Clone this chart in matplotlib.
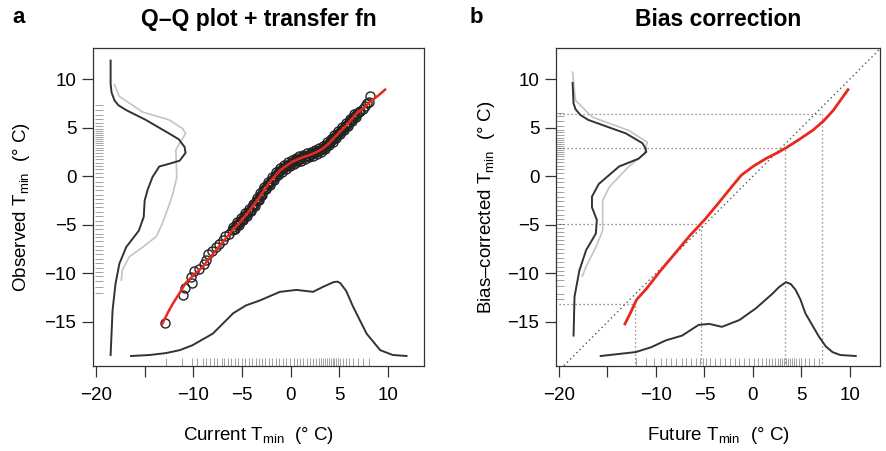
import matplotlib
matplotlib.use("Agg")
import matplotlib.pyplot as plt

plt.rcParams['font.family'] = ['Liberation Sans', 'DejaVu Sans']
plt.rcParams['mathtext.fontset'] = 'custom'
plt.rcParams['mathtext.rm'] = 'Liberation Sans'
plt.rcParams['axes.unicode_minus'] = True

# ---------------- panel a: Q-Q plot + transfer function ----------------
qq_cur = [-12.9, -11.1, -10.9, -10.2, -10.1, -9.9, -9.4, -8.9, -8.7, -8.5, -8.1, -7.7, -7.4, -7.0, -6.7, -6.3,
          -6.0, -5.8, -5.6, -5.4, -5.2, -5.0, -4.8, -4.6, -4.4, -4.2,
          -4.0, -3.8, -3.6, -3.4, -3.2, -3.0, -2.8, -2.6, -2.4, -2.2,
          -2.0, -1.8, -1.6, -1.4, -1.2, -1.0, -0.8, -0.6, -0.4, -0.2,
          0.0, 0.2, 0.4, 0.6, 0.8, 1.0, 1.2, 1.4, 1.6, 1.8,
          2.0, 2.2, 2.4, 2.6, 2.8, 3.0, 3.2, 3.4, 3.6, 3.8,
          4.0, 4.2, 4.4, 4.6, 4.8, 5.0, 5.2, 5.4, 5.6, 5.8,
          6.0, 6.2, 6.4, 6.6, 6.8,
          7.0, 7.1, 7.4, 7.6, 7.8, 8.0, 8.2,
          -5.9, -5.7, -5.5, -5.3, -5.1, -4.9, -4.7, -4.5, -4.3, -4.1,
          -3.9, -3.7, -3.5, -3.3, -3.1, -2.9, -2.7, -2.5, -2.3, -2.1,
          -1.9, -1.7, -1.5, -1.3, -1.1, -0.9, -0.7, -0.5, -0.3, -0.1,
          0.1, 0.3, 0.5, 0.7, 0.9, 1.1, 1.3, 1.5, 1.7, 1.9,
          2.1, 2.3, 2.5, 2.7, 2.9, 3.1, 3.3, 3.5, 3.7, 3.9,
          4.1, 4.3, 4.5, 4.7, 4.9, 5.1, 5.3, 5.5, 5.7, 5.9,
          6.1, 6.3, 6.5, 6.7]
qq_obs = [-15.1, -12.2, -11.5, -10.4, -11.0, -9.8, -9.5, -9.0, -8.6, -8.0, -7.7, -7.3, -7.0, -6.6, -6.2, -5.9,
          -5.5, -5.4, -5.05, -4.95, -4.6, -4.5, -4.1, -4.0, -3.65, -3.55,
          -3.15, -3.0, -2.6, -2.45, -2.0, -1.9, -1.45, -1.3, -0.9, -0.8,
          -0.45, -0.3, 0.05, 0.2, 0.55, 0.6, 0.85, 0.9, 1.15, 1.2,
          1.4, 1.45, 1.62, 1.63, 1.78, 1.78, 1.93, 1.95, 2.08, 2.1,
          2.25, 2.27, 2.44, 2.47, 2.64, 2.66, 2.84, 2.92, 3.18, 3.3,
          3.56, 3.68, 3.94, 4.06, 4.34, 4.46, 4.74, 4.86, 5.14, 5.28,
          5.6, 5.74, 6.07, 6.22, 6.55,
          6.6, 6.7, 6.9, 7.2, 7.5, 7.6, 8.3,
          -5.2, -5.48, -4.75, -5.03, -4.3, -4.55, -3.8, -4.08, -3.35, -3.6,
          -2.83, -3.05, -2.28, -2.48, -1.7, -1.93, -1.13, -1.35, -0.6, -0.88,
          -0.13, -0.38, 0.38, 0.13, 0.83, 0.48, 1.13, 0.78, 1.43, 1.05,
          1.68, 1.29, 1.88, 1.46, 2.03, 1.61, 2.19, 1.77, 2.34, 1.93,
          2.51, 2.11, 2.71, 2.31, 2.9, 2.5, 3.13, 2.8, 3.49, 3.18,
          3.87, 3.56, 4.25, 3.95, 4.65, 4.35, 5.05, 4.75, 5.46, 5.19,
          5.92, 5.66, 6.4, 6.14]

tf_x = [-13.2, -12.6, -12.1, -11.4, -10.8, -9.9, -9.0, -7.5, -6.0, -5.0, -4.2, -3.3, -2.5, -1.8, -1.1, -0.4,
        0.2, 1.0, 2.0, 2.7, 3.3, 3.9, 4.4, 5.0, 5.7, 6.3, 6.8, 7.5, 8.1, 9.0, 9.7]
tf_y = [-15.2, -14.0, -13.1, -12.0, -11.0, -10.1, -9.3, -7.4, -5.6, -4.5, -3.5, -2.3, -1.1, -0.2, 0.6, 1.1,
        1.5, 1.85, 2.2, 2.5, 2.85, 3.35, 3.9, 4.5, 5.2, 5.9, 6.5, 7.0, 7.6, 8.3, 8.9]

# observed density (black) and current density (grey), drawn sideways on the left
obs_dens_x = [-18.5, -18.5, -18.4, -18.1, -17.7, -16.9, -14.9, -12.5, -11.5, -10.9, -10.8, -11.4, -12.4, -13.5,
              -14.2, -14.7, -15.0, -15.1, -15.6, -16.9, -17.6, -18.0, -18.3, -18.5]
obs_dens_y = [11.9, 9.5, 8.6, 7.8, 7.3, 6.8, 5.8, 4.4, 3.8, 3.0, 2.4, 1.6, 1.3, 1.0,
              -0.1, -1.4, -2.5, -4.2, -5.6, -7.3, -9.0, -11.1, -13.8, -18.4]
cur_dens_x = [-18.1, -17.6, -15.2, -12.5, -11.1, -10.8, -11.4, -11.8, -11.7, -12.1, -12.5, -13.2, -13.8,
              -15.2, -16.6, -17.3, -17.4]
cur_dens_y = [9.4, 8.2, 6.6, 5.8, 4.9, 4.4, 3.4, 2.7, -0.1, -1.8, -3.0, -4.9, -6.2,
              -7.3, -8.3, -9.7, -10.7]
# current density along the bottom
cur_bot_x = [-16.4, -14.5, -12.8, -11.4, -10.1, -8.0, -5.9, -4.6, -3.2, -1.1, 0.6, 2.3, 3.3, 4.4, 4.8, 5.1,
             5.7, 6.4, 7.8, 9.2, 10.5, 11.9]
cur_bot_y = [-18.5, -18.4, -18.2, -17.9, -17.4, -16.2, -14.1, -13.3, -12.8, -11.9, -11.7, -11.9, -11.4, -10.9,
             -10.85, -11.0, -11.8, -13.4, -16.2, -17.9, -18.4, -18.5]

rug_cur = [-12.8, -11.2, -10.1, -9.6, -9.0, -8.7, -8.3, -7.9, -7.6, -7.1, -6.8, -6.4, -6.1, -5.7, -5.4, -5.0,
           -4.7, -4.3, -4.0, -3.6, -3.3, -2.9, -2.6, -2.2, -1.9, -1.5, -1.2, -0.8, -0.5, -0.1, 0.3, 0.6,
           1.0, 1.3, 1.7, 2.0, 2.3, 2.6, 2.9, 3.1, 3.3, 3.5, 3.7, 3.9, 4.1, 4.3, 4.5, 4.7, 4.9, 5.1,
           5.4, 5.7, 6.0, 6.4, 6.9, 7.4, 8.1]
rug_obs = [-12.0, -11.4, -10.8, -10.3, -9.9, -9.4, -8.9, -8.5, -8.0, -7.6, -7.2, -6.7, -6.3, -5.9, -5.4, -5.0,
           -4.6, -4.1, -3.7, -3.2, -2.8, -2.3, -1.9, -1.4, -1.0, -0.6, -0.1, 0.3, 0.7, 1.1, 1.4, 1.8,
           2.1, 2.4, 2.7, 2.9, 3.2, 3.4, 3.6, 3.8, 4.0, 4.2, 4.4, 4.6, 4.9, 5.2, 5.5, 5.9, 6.3, 6.8, 7.3]

# ---------------- panel b: bias correction ----------------
bc_x = [-13.2, -12.6, -12.0, -11.0, -9.6, -8.0, -6.5, -5.0, -3.5, -2.2, -1.2, 0.0, 1.4, 2.5, 3.5, 4.8,
        6.2, 7.3, 8.3, 9.8]
bc_y = [-15.2, -14.0, -12.7, -11.6, -9.8, -7.9, -6.1, -4.5, -2.7, -1.1, 0.1, 1.0, 1.85, 2.4, 2.97, 3.8,
        4.75, 5.7, 6.8, 8.9]

guide_x = [-12.2, -5.4, 3.3, 7.1]
guide_y = [-13.1, -4.95, 2.95, 6.4]

corr_dens_x = [-18.6, -18.5, -18.3, -17.8, -17.0, -15.9, -13.1, -11.4, -11.1, -11.0, -11.8, -13.8, -15.9,
               -16.6, -16.6, -16.1, -16.2, -17.2, -17.9, -18.4, -18.5]
corr_dens_y = [9.6, 7.5, 6.9, 6.3, 5.8, 5.4, 4.4, 3.4, 2.9, 2.5, 1.8, 1.0, -0.8,
               -2.1, -3.2, -4.5, -5.9, -7.6, -9.7, -12.4, -16.4]
obs2_dens_x = [-18.6, -18.3, -16.6, -12.8, -10.9, -11.2, -12.8, -14.8, -15.5, -15.5, -15.5, -16.2, -17.2, -17.6]
obs2_dens_y = [10.7, 7.8, 6.1, 4.7, 3.5, 2.3, 1.0, -1.1, -2.5, -4.2, -5.6, -7.3, -9.3, -10.3]
fut_bot_x = [-15.7, -12.1, -10.5, -9.0, -7.3, -5.6, -4.5, -3.2, -1.4, 0.3, 2.0, 2.7, 3.4, 3.9, 4.4, 4.9,
             5.4, 6.8, 7.5, 8.2, 9.0, 10.6]
fut_bot_y = [-18.5, -18.1, -17.6, -16.9, -16.4, -15.3, -15.2, -15.5, -14.8, -13.6, -12.1, -11.4, -10.9,
             -11.1, -11.7, -12.7, -14.1, -16.5, -17.5, -18.1, -18.4, -18.5]

rug_fut = [-12.1, -11.0, -10.2, -9.5, -9.0, -8.4, -7.9, -7.3, -6.9, -6.4, -5.9, -5.5, -5.2, -4.8, -4.4, -3.9,
           -3.4, -2.9, -2.4, -1.9, -1.4, -0.9, -0.4, 0.1, 0.5, 0.9, 1.3, 1.7, 2.0, 2.3, 2.6, 2.8,
           3.0, 3.2, 3.4, 3.6, 3.8, 4.0, 4.2, 4.4, 4.7, 5.0, 5.4, 5.8, 6.3, 6.8]
rug_corr = [-12.6, -12.1, -11.3, -10.7, -10.2, -9.8, -9.3, -8.8, -8.4, -7.9, -7.5, -7.0, -6.6, -6.2, -5.7, -5.3,
            -4.9, -4.4, -4.0, -3.5, -3.1, -2.6, -2.1, -1.6, -1.1, -0.6, -0.2, 0.3, 0.7, 1.1, 1.5, 1.8,
            2.1, 2.3, 2.5, 2.7, 2.9, 3.1, 3.3, 3.5, 3.7, 3.9, 4.2, 4.5, 4.8, 5.2, 5.7, 6.2, 6.5]

xticks = [-20, -15, -10, -5, 0, 5, 10]
xtick_labels = ['\u221220', '', '\u221210', '\u22125', '0', '5', '10']
yticks = [-15, -10, -5, 0, 5, 10]

dark = '#333333'
red = '#e8291c'

fig = plt.figure(figsize=(8.86, 4.51), dpi=100)
ax1 = fig.add_axes([93 / 886, 85 / 451, 331 / 886, 318 / 451])
ax2 = fig.add_axes([556 / 886, 85 / 451, 324 / 886, 318 / 451])


def style(ax):
    for s in ax.spines.values():
        s.set_color(dark)
        s.set_linewidth(0.9)
    ax.set_xticks(xticks)
    ax.set_xticklabels(xtick_labels)
    ax.set_yticks(yticks)
    ax.tick_params(direction='out', length=8, width=0.9, color=dark, labelsize=13.5, pad=7)
    ax.tick_params(axis='y', pad=4)
    ax.set_ylim(-19.53, 13.19)


def rugs(ax, xs, ys, x0):
    ax.vlines(xs, 0, 0.025, transform=ax.get_xaxis_transform(), color='black', alpha=0.42, lw=0.6)
    ax.hlines(ys, x0, x0 + 0.025, transform=ax.get_yaxis_transform(), color='black', alpha=0.42, lw=0.6)


# panel a
ax1.plot(cur_dens_x, cur_dens_y, color='#c4c4c4', lw=1.2)
ax1.plot(obs_dens_x, obs_dens_y, color=dark, lw=1.4)
ax1.plot(cur_bot_x, cur_bot_y, color=dark, lw=1.4)
rugs(ax1, rug_cur, rug_obs, 0.006)
ax1.plot(qq_cur, qq_obs, 'o', mfc='none', mec='#222222', ms=6.5, mew=1.0)
ax1.plot(tf_x, tf_y, color=red, lw=1.8)
style(ax1)
ax1.set_xlim(-20.31, 13.7)

# panel b
ax2.plot([-25, 20], [-25, 20], color='#555555', lw=1.0, ls=(0, (1, 2.2)))
for gx, gy in zip(guide_x, guide_y):
    ax2.plot([-25, gx], [gy, gy], color='#777777', lw=0.9, ls=(0, (1, 2.2)))
    ax2.plot([gx, gx], [-25, gy], color='#777777', lw=0.9, ls=(0, (1, 2.2)))
ax2.plot(obs2_dens_x, obs2_dens_y, color='#c4c4c4', lw=1.2)
ax2.plot(corr_dens_x, corr_dens_y, color=dark, lw=1.4)
ax2.plot(fut_bot_x, fut_bot_y, color=dark, lw=1.4)
rugs(ax2, rug_fut, rug_corr, 0.0)
ax2.plot(bc_x, bc_y, color=red, lw=2.0)
style(ax2)
ax2.set_xlim(-20.31, 13.1)

# labels
ax1.set_xlabel('Current T$_{\\mathrm{min}}$  (° C)', fontsize=13.5)
ax1.set_ylabel('Observed T$_{\\mathrm{min}}$  (° C)', fontsize=13.5)
ax2.set_xlabel('Future T$_{\\mathrm{min}}$  (° C)', fontsize=13.5)
ax2.set_ylabel('Bias\u2013corrected T$_{\\mathrm{min}}$  (° C)', fontsize=13.5)
for ax, yx in ((ax1, -0.2175), (ax2, -0.213)):
    ax.xaxis.set_label_coords(0.5, -0.217)
    ax.xaxis.label.set_va('center')
    ax.yaxis.set_label_coords(yx, 0.5)
    ax.yaxis.label.set_va('center')

fig.text(258.5 / 886, 0.943, 'Q\u2013Q plot + transfer fn', ha='center', va='baseline', fontsize=16.5, fontweight='bold')
fig.text(718 / 886, 0.943, 'Bias correction', ha='center', va='baseline', fontsize=16.5, fontweight='bold')
fig.text(19 / 886, 0.948, 'a', ha='center', va='baseline', fontsize=16, fontweight='bold')
fig.text(476 / 886, 0.948, 'b', ha='center', va='baseline', fontsize=16, fontweight='bold')

fig.savefig('out.png', dpi=100)
